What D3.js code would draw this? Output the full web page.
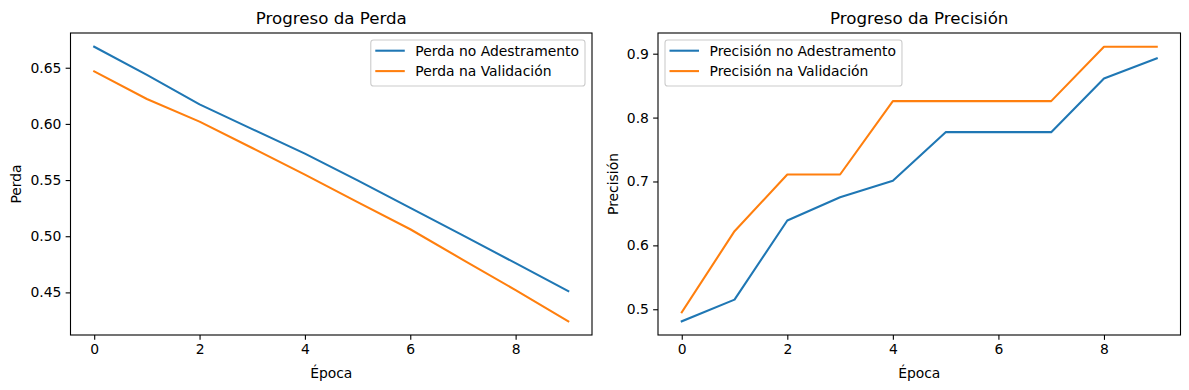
<!DOCTYPE html>
<html>
<head>
<meta charset="utf-8">
<script src="https://cdn.jsdelivr.net/npm/d3@7"></script>
<style>
  html, body { margin: 0; padding: 0; background: #fff; }
  svg { display: block; font-family: "DejaVu Sans", sans-serif; }
</style>
</head>
<body>
<svg id="chart" width="1189" height="390"></svg>
<script>
// ---- data ----
const epochs = [0, 1, 2, 3, 4, 5, 6, 7, 8, 9];
const lossTrain = [0.6687, 0.6437, 0.6174, 0.5954, 0.5735, 0.5497, 0.5252, 0.5008, 0.4760, 0.4511];
const lossVal   = [0.6468, 0.6222, 0.6020, 0.5785, 0.5549, 0.5303, 0.5062, 0.4790, 0.4520, 0.4243];
const accTrain  = [0.4812, 0.5151, 0.6389, 0.6754, 0.7010, 0.7772, 0.7772, 0.7772, 0.8613, 0.8926];
const accVal    = [0.4953, 0.6222, 0.7109, 0.7109, 0.8258, 0.8258, 0.8258, 0.8258, 0.9109, 0.9109];
const xTicks = [0, 2, 4, 6, 8];
const lossTicks = [0.45, 0.50, 0.55, 0.60, 0.65];
const accTicks = [0.5, 0.6, 0.7, 0.8, 0.9];
const titles = ["Progreso da Perda", "Progreso da Precisión"];
const yLabels = ["Perda", "Precisión"];
const xLabel = "Época";
const lossNames = ["Perda no Adestramento", "Perda na Validación"];
const accNames = ["Precisión no Adestramento", "Precisión na Validación"];
const colors = ["#1f77b4", "#ff7f0e"];

const svg = d3.select("#chart");
const FS = 13.9;

function panel(cfg) {
  const { x0, x1, y0, y1, series, names, yTicks, fmt, title, ylab, legendPos, ylabX } = cfg;
  const x = d3.scaleLinear().domain([-0.45, 9.45]).range([x0, x1]);
  const all = series.flat();
  const [mn, mx] = d3.extent(all);
  const pad = (mx - mn) * 0.05;
  const y = d3.scaleLinear().domain([mn - pad, mx + pad]).range([y1, y0]);
  const g = svg.append("g");

  // lines
  const line = d3.line().x((d, i) => x(epochs[i])).y(d => y(d));
  series.forEach((s, k) => {
    g.append("path").datum(s).attr("d", line)
      .attr("fill", "none").attr("stroke", colors[k])
      .attr("stroke-width", 2.08).attr("stroke-linejoin", "round").attr("stroke-linecap", "square");
  });

  // axes
  const xa = g.append("g").attr("transform", `translate(0,${y1})`)
    .call(d3.axisBottom(x).tickValues(xTicks).tickFormat(d3.format("d")).tickSize(4.86).tickPadding(4.2));
  const ya = g.append("g").attr("transform", `translate(${x0},0)`)
    .call(d3.axisLeft(y).tickValues(yTicks).tickFormat(d3.format(fmt)).tickSize(4.86).tickPadding(4.2));
  [xa, ya].forEach(a => {
    a.select(".domain").remove();
    a.selectAll(".tick line").attr("stroke", "#000").attr("stroke-width", 1.1);
    a.selectAll(".tick text").attr("fill", "#000").style("font-size", FS + "px").style("font-family", "DejaVu Sans");
  });

  // frame
  g.append("rect").attr("x", x0).attr("y", y0).attr("width", x1 - x0).attr("height", y1 - y0)
    .attr("fill", "none").attr("stroke", "#000").attr("stroke-width", 1.1);

  // title
  g.append("text").attr("x", (x0 + x1) / 2).attr("y", 24).attr("text-anchor", "middle")
    .style("font-size", "16.67px").attr("fill", "#000").text(title);
  // x label
  g.append("text").attr("x", (x0 + x1) / 2).attr("y", 378).attr("text-anchor", "middle")
    .style("font-size", FS + "px").attr("fill", "#000").text(xLabel);
  // y label
  g.append("text").attr("transform", `translate(${ylabX},${(y0 + y1) / 2}) rotate(-90)`)
    .attr("text-anchor", "middle").style("font-size", FS + "px").attr("fill", "#000").text(ylab);

  // legend
  const lg = g.append("g");
  const box = lg.append("rect");
  const texts = names.map((n, k) => lg.append("text").style("font-size", FS + "px").attr("fill", "#000").text(n));
  const tw = d3.max(texts, t => t.node().getComputedTextLength());
  const bw = tw + 50.5, bh = 46;
  const bx = legendPos === "right" ? x1 - 7 - bw : x0 + 7;
  const by = y0 + 7;
  box.attr("x", bx).attr("y", by).attr("width", bw).attr("height", bh).attr("rx", 2.8)
    .attr("fill", "#fff").attr("fill-opacity", 0.8).attr("stroke", "#cccccc").attr("stroke-width", 1.1);
  names.forEach((n, k) => {
    const hy = by + 10.7 + k * 20.4;
    lg.append("line").attr("x1", bx + 4.5).attr("x2", bx + 34).attr("y1", hy).attr("y2", hy)
      .attr("stroke", colors[k]).attr("stroke-width", 2.08);
    texts[k].attr("x", bx + 44.5).attr("y", hy + 5);
  });
}

panel({ x0: 70.5, x1: 592, y0: 33, y1: 335, series: [lossTrain, lossVal], names: lossNames,
  yTicks: lossTicks, fmt: ".2f", title: titles[0], ylab: yLabels[0], legendPos: "right", ylabX: 20.5 });
panel({ x0: 658, x1: 1180.5, y0: 33, y1: 335, series: [accTrain, accVal], names: accNames,
  yTicks: accTicks, fmt: ".1f", title: titles[1], ylab: yLabels[1], legendPos: "left", ylabX: 617.5 });
</script>
</body>
</html>
